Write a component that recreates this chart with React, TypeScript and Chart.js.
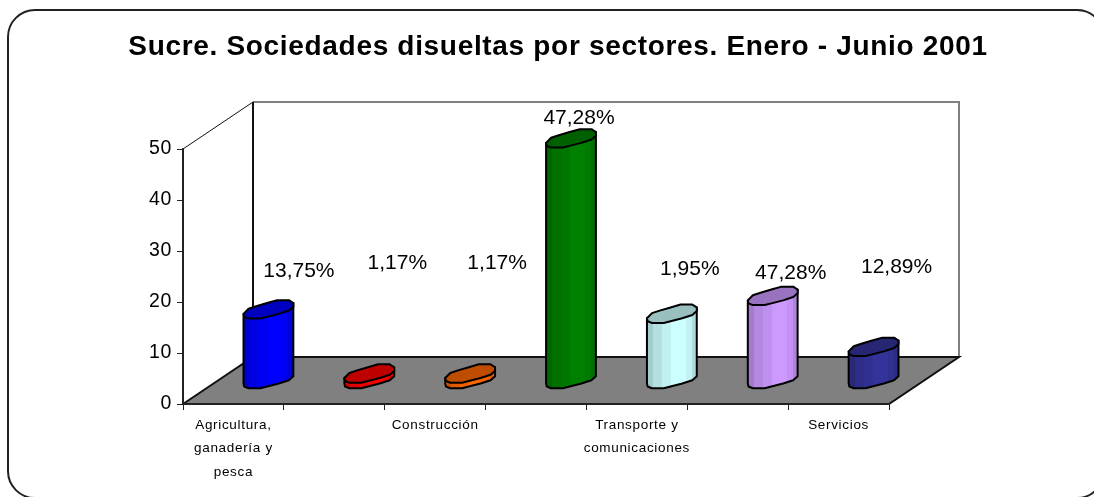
import React, { useEffect, useRef } from "react";
import { Chart, registerables } from "chart.js";

Chart.register(...registerables);

const titleText = "Sucre. Sociedades disueltas por sectores. Enero - Junio 2001";
const categories: (string | string[])[] = [
  ["Agricultura,", "ganadería y", "pesca"],
  "",
  "Construcción",
  "",
  ["Transporte y", "comunicaciones"],
  "",
  "Servicios",
];
const barValues = [13.75, 1.17, 1.17, 47.28, 12.89, 16.4, 6.4];
const valueLabels = ["13,75%", "1,17%", "1,17%", "47,28%", "1,95%", "47,28%", "12,89%"];
const labelLevels = [26.1, 27.6, 27.6, 56.1, 26.5, 25.7, 26.9];
const labelShifts = [65.5, 63, 62, 43, 53, 53, 58];
const barColors = ["#0000FF", "#FF0000", "#FF6600", "#008000", "#CCFFFF", "#CC99FF", "#333399"];
const yTicks = [0, 10, 20, 30, 40, 50];

const DEPTH_X = 70;
const DEPTH_Y = -47;
const BAR_LIFT = -24.5;
const TITLE_SHIFT = 113.5;

// Faceted outline of the cylinder cap, relative to its centre
const capOutline: [number, number][] = [
  [-24.7, 4.5], [-19.7, -0.6], [-11.3, -3.4], [-1.3, -6.3], [8.7, -9.2], [20.3, -9.2], [24.7, -6.3],
  [24.7, -2.7], [20.3, 1.2], [10.3, 4.5], [-1.3, 7.5], [-8, 9.2], [-19.7, 9.2], [-24, 7.5],
];
const lowerOutline = capOutline.slice(6);
const bands: [number, number, number][] = [
  [0, 0.12, 0.8], [0.12, 0.3, 0.88], [0.3, 0.48, 0.94], [0.48, 0.78, 1], [0.78, 0.9, 0.95], [0.9, 1, 0.86],
];

function shade(hex: string, k: number) {
  const n = parseInt(hex.slice(1), 16);
  const c = [(n >> 16) & 255, (n >> 8) & 255, n & 255].map((v) => Math.round(v * k));
  return `rgb(${c[0]},${c[1]},${c[2]})`;
}

const scene = {
  id: "scene",
  afterLayout(chart: any) {
    chart.titleBlock.left += TITLE_SHIFT;
    chart.titleBlock.right += TITLE_SHIFT;
  },
  beforeDraw(chart: any) {
    const { ctx, chartArea: a } = chart;
    ctx.save();
    ctx.fillStyle = "#fff";
    ctx.fillRect(0, 0, chart.width, chart.height);
    // outer rounded frame
    ctx.beginPath();
    ctx.roundRect(8, 10, 1096, 488, 27);
    ctx.lineWidth = 2;
    ctx.strokeStyle = "#222";
    ctx.stroke();
    // back wall
    ctx.lineWidth = 2;
    ctx.strokeStyle = "#808080";
    ctx.beginPath();
    ctx.moveTo(a.left + DEPTH_X, a.top + DEPTH_Y);
    ctx.lineTo(a.right + DEPTH_X, a.top + DEPTH_Y);
    ctx.lineTo(a.right + DEPTH_X, a.bottom + DEPTH_Y);
    ctx.stroke();
    ctx.strokeStyle = "#111";
    ctx.beginPath();
    ctx.moveTo(a.left + DEPTH_X, a.top + DEPTH_Y);
    ctx.lineTo(a.left + DEPTH_X, a.bottom + DEPTH_Y);
    ctx.stroke();
    // side wall top edge
    ctx.lineWidth = 1;
    ctx.beginPath();
    ctx.moveTo(a.left, a.top);
    ctx.lineTo(a.left + DEPTH_X, a.top + DEPTH_Y);
    ctx.stroke();
    // floor
    ctx.beginPath();
    ctx.moveTo(a.left, a.bottom);
    ctx.lineTo(a.left + DEPTH_X, a.bottom + DEPTH_Y);
    ctx.lineTo(a.right + DEPTH_X, a.bottom + DEPTH_Y);
    ctx.lineTo(a.right, a.bottom);
    ctx.closePath();
    ctx.fillStyle = "#808080";
    ctx.fill();
    ctx.lineWidth = 2;
    ctx.strokeStyle = "#111";
    ctx.stroke();
    ctx.restore();
    ctx.letterSpacing = "0.68px";
  },
  afterDatasetsDraw(chart: any) {
    const { ctx } = chart;
    const meta = chart.getDatasetMeta(0);
    const yScale = chart.scales.y;
    ctx.save();
    ctx.lineJoin = "round";
    meta.data.forEach((el: any, i: number) => {
      const k = el.width / 50;
      const cx = el.x + DEPTH_X / 2;
      const topY = el.y + BAR_LIFT;
      const baseY = el.base + BAR_LIFT;
      const left = cx - 24.7 * k;
      const right = cx + 24.7 * k;
      const col = barColors[i];

      const g = ctx.createLinearGradient(left, 0, right, 0);
      bands.forEach(([a, b, s]) => {
        g.addColorStop(a, shade(col, s));
        g.addColorStop(b, shade(col, s));
      });

      ctx.beginPath();
      ctx.moveTo(left, topY + capOutline[0][1]);
      ctx.lineTo(left, baseY + capOutline[0][1]);
      [...lowerOutline].reverse().forEach(([x, y]) => ctx.lineTo(cx + x * k, baseY + y));
      ctx.lineTo(right, topY + capOutline[6][1]);
      ctx.closePath();
      ctx.fillStyle = g;
      ctx.fill();
      ctx.lineWidth = 2;
      ctx.strokeStyle = "#000";
      ctx.stroke();

      ctx.beginPath();
      capOutline.forEach(([x, y], j) => {
        if (j === 0) ctx.moveTo(cx + x * k, topY + y);
        else ctx.lineTo(cx + x * k, topY + y);
      });
      ctx.closePath();
      ctx.fillStyle = shade(col, 0.75);
      ctx.fill();
      ctx.stroke();
    });
    ctx.fillStyle = "#000";
    ctx.font = "21px 'Liberation Sans'";
    ctx.letterSpacing = "0px";
    ctx.textAlign = "center";
    ctx.textBaseline = "middle";
    meta.data.forEach((el: any, i: number) => {
      ctx.fillText(valueLabels[i], el.x + labelShifts[i], yScale.getPixelForValue(labelLevels[i]));
    });
    ctx.restore();
  },
};

export default function App() {
  const ref = useRef<HTMLCanvasElement>(null);
  useEffect(() => {
    document.body.style.margin = "0";
    document.body.style.overflow = "hidden";
    const chart = new Chart(ref.current as HTMLCanvasElement, {
      type: "bar",
      data: {
        labels: categories as any,
        datasets: [
          {
            data: barValues,
            backgroundColor: "rgba(0,0,0,0)",
            borderWidth: 0,
            categoryPercentage: 1,
            barPercentage: 0.5,
          },
        ],
      },
      options: {
        responsive: false,
        animation: false,
        layout: { padding: { left: 0, right: 205, top: 0, bottom: 0 } },
        plugins: {
          legend: { display: false },
          tooltip: { enabled: false },
          title: {
            display: true,
            text: titleText,
            color: "#000",
            font: { family: "'Liberation Sans'", size: 28, weight: "bold" },
            padding: { top: 30, bottom: 85.4 },
            fullSize: true,
          },
        },
        scales: {
          x: {
            offset: true,
            afterFit: (s: any) => { s.height = 93; },
            grid: { drawOnChartArea: false, color: "#222", tickLength: 6, offset: true },
            border: { color: "#222", width: 2 },
            ticks: {
              autoSkip: false,
              maxRotation: 0,
              minRotation: 0,
              padding: 3,
              color: "#000",
              font: { family: "'Liberation Sans'", size: 13.5, lineHeight: 1.75 },
            },
          },
          y: {
            min: 0,
            max: 50,
            afterFit: (s: any) => { s.width = 183; },
            afterBuildTicks: (s: any) => { s.ticks = yTicks.map((value) => ({ value })); },
            grid: { drawOnChartArea: false, color: "#222", tickLength: 6 },
            border: { color: "#222", width: 2 },
            ticks: {
              padding: 5,
              color: "#000",
              font: { family: "'Liberation Sans'", size: 19.5 },
            },
          },
        },
      },
      plugins: [scene],
    } as any);
    return () => chart.destroy();
  }, []);
  return (
    <div style={{ position: "absolute", left: 0, top: 0, width: 1094, height: 497, overflow: "hidden" }}>
      <canvas ref={ref} width={1094} height={497} style={{ display: "block" }} />
    </div>
  );
}
